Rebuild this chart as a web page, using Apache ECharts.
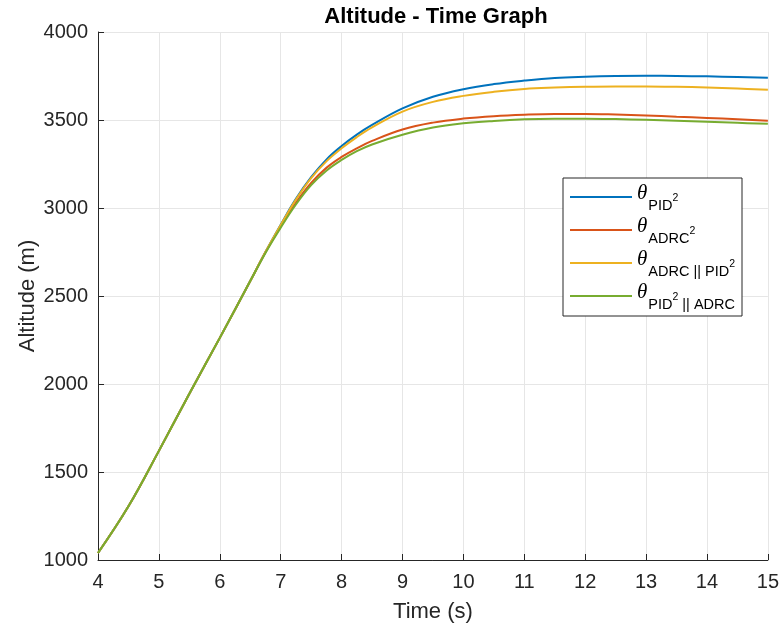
<!DOCTYPE html>
<html>
<head>
<meta charset="utf-8">
<script src="https://cdn.jsdelivr.net/npm/echarts@6/dist/echarts.min.js"></script>
<style>html,body{margin:0;padding:0;background:#fff;}#c{width:782px;height:632px;}</style>
</head>
<body>
<div id="c"></div>
<script>
const time     = [4, 4.5, 5, 5.5, 6, 6.5, 6.75, 7, 7.25, 7.5, 7.75, 8, 8.25, 8.5, 9, 9.5, 10, 10.5, 11, 11.5, 12, 12.5, 13, 13.5, 14, 14.5, 15];
const pid2     = [1040, 1305, 1620, 1945, 2262, 2585, 2750, 2905, 3052, 3175, 3275, 3352, 3417, 3472, 3566, 3632, 3675, 3704, 3724, 3739, 3746, 3750, 3751, 3750, 3748, 3744, 3740];
const adrc2    = [1040, 1305, 1620, 1945, 2262, 2585, 2748, 2895, 3030, 3142, 3228, 3290, 3339, 3381, 3446, 3485, 3508, 3522, 3530, 3534, 3534, 3531, 3526, 3519, 3512, 3504, 3496];
const adrcPid2 = [1040, 1305, 1620, 1945, 2262, 2585, 2750, 2903, 3048, 3170, 3265, 3339, 3403, 3458, 3548, 3603, 3637, 3660, 3676, 3684, 3689, 3691, 3691, 3689, 3685, 3679, 3672];
const pid2Adrc = [1040, 1305, 1620, 1945, 2262, 2585, 2745, 2888, 3020, 3130, 3212, 3273, 3323, 3361, 3416, 3457, 3481, 3495, 3504, 3507, 3507, 3505, 3501, 3496, 3490, 3484, 3478];
const xTicks = [4, 5, 6, 7, 8, 9, 10, 11, 12, 13, 14, 15];
const yTicks = [1000, 1500, 2000, 2500, 3000, 3500, 4000];

const names = ['PID2', 'ADRC2', 'ADRC||PID2', 'PID2||ADRC'];
const legendRich = {
  'PID2': '{t|θ}{s|PID}{p|2}',
  'ADRC2': '{t|θ}{s|ADRC}{p|2}',
  'ADRC||PID2': '{t|θ}{s|ADRC || PID}{p|2}',
  'PID2||ADRC': '{t|θ}{s|PID}{p|2}{s| || ADRC}'
};
const colors = ['#0072BD', '#D95319', '#EDB120', '#77AC30'];
const seriesData = [pid2, adrc2, adrcPid2, pid2Adrc];

const chart = echarts.init(document.getElementById('c'), null, {renderer: 'canvas'});
const axisColor = '#262626';
chart.setOption({
  backgroundColor: '#fff',
  animation: false,
  color: colors,
  title: {
    text: 'Altitude - Time Graph',
    left: 431, textAlign: 'center', top: 1,
    textStyle: {fontFamily: 'Liberation Sans', fontSize: 22, fontWeight: 'bold', color: '#000'}
  },
  grid: {left: 98, right: 12, top: 32, bottom: 72, containLabel: false},
  legend: {
    orient: 'vertical',
    left: 563, top: 178,
    padding: [3, 7, 4, 7],
    itemGap: 1,
    itemWidth: 62, itemHeight: 2,
    icon: 'path://M0 0 H62 V2 H0 Z',
    backgroundColor: '#fff',
    borderColor: '#262626', borderWidth: 1,
    data: names,
    formatter: n => legendRich[n],
    textStyle: {
      color: '#000',
      rich: {
        t: {fontFamily: 'Liberation Serif', fontStyle: 'italic', fontSize: 21, lineHeight: 32, verticalAlign: 'top', padding: [2, 1, 0, 0], color: '#000'},
        s: {fontFamily: 'Liberation Sans', fontSize: 14.5, verticalAlign: 'bottom', color: '#000'},
        p: {fontFamily: 'Liberation Sans', fontSize: 10.5, padding: [2, 0, 0, 0], color: '#000'}
      }
    }
  },
  xAxis: {
    type: 'value', min: 4, max: 15, interval: 1,
    name: 'Time (s)', nameLocation: 'middle', nameGap: 41, nameMoveOverlap: false,
    nameTextStyle: {fontFamily: 'Liberation Sans', fontSize: 22, color: axisColor},
    axisLine: {show: true, lineStyle: {color: axisColor, width: 1}},
    axisTick: {show: true, inside: true, length: 6, lineStyle: {color: axisColor}},
    axisLabel: {fontFamily: 'Liberation Sans', fontSize: 20, color: axisColor, margin: 12,
      formatter: v => xTicks.includes(v) ? String(v) : ''},
    splitLine: {show: true, lineStyle: {color: '#e6e6e6', width: 1}}
  },
  yAxis: {
    type: 'value', min: 1000, max: 4000, interval: 500,
    name: 'Altitude (m)', nameLocation: 'middle', nameGap: 59, nameMoveOverlap: false,
    nameTextStyle: {fontFamily: 'Liberation Sans', fontSize: 22, color: axisColor},
    axisLine: {show: true, lineStyle: {color: axisColor, width: 1}},
    axisTick: {show: true, inside: true, length: 6, lineStyle: {color: axisColor}},
    axisLabel: {fontFamily: 'Liberation Sans', fontSize: 20, color: axisColor, margin: 10,
      formatter: v => yTicks.includes(v) ? String(v) : ''},
    splitLine: {show: true, lineStyle: {color: '#e6e6e6', width: 1}}
  },
  series: names.map((n, i) => ({
    name: n, type: 'line', smooth: 0.4, symbol: 'none', showSymbol: false,
    lineStyle: {width: 2, color: colors[i]},
    itemStyle: {color: colors[i]},
    data: time.map((t, k) => [t, seriesData[i][k]])
  }))
});
</script>
</body>
</html>
